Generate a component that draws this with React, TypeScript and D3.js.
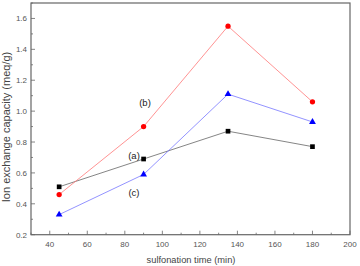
import React, { useEffect, useRef } from 'react';
import * as d3 from 'd3';

const times = [45, 90, 135, 180];
const seriesA = [0.51, 0.69, 0.87, 0.77];
const seriesB = [0.46, 0.90, 1.55, 1.06];
const seriesC = [0.33, 0.59, 1.11, 0.93];
const xTicks = [40, 60, 80, 100, 120, 140, 160, 180, 200];
const yTicks = [0.2, 0.4, 0.6, 0.8, 1.0, 1.2, 1.4, 1.6];

const App: React.FC = () => {
    const ref = useRef<SVGSVGElement>(null);

    useEffect(() => {
        const svg = d3.select(ref.current);
        svg.selectAll('*').remove();

        const left = 31, right = 350, top = 3, bottom = 234.7;
        const x = d3.scaleLinear().domain([30, 200]).range([left, right]);
        const y = d3.scaleLinear().domain([0.2, 1.7]).range([bottom, top]);
        const axisColor = '#666';
        const font = 'Arial, "Liberation Sans", sans-serif';

        // frame
        svg.append('rect')
            .attr('x', left).attr('y', top)
            .attr('width', right - left).attr('height', bottom - top)
            .attr('fill', 'none').attr('stroke', axisColor).attr('stroke-width', 1.2);

        // x ticks (inward)
        const xg = svg.append('g');
        d3.range(30, 201, 10).forEach(v => {
            const major = v % 20 === 0;
            xg.append('line')
                .attr('x1', x(v)).attr('x2', x(v))
                .attr('y1', bottom).attr('y2', bottom - (major ? 4 : 2))
                .attr('stroke', axisColor).attr('stroke-width', 0.8);
        });
        xTicks.forEach(v => {
            xg.append('text')
                .attr('x', x(v)).attr('y', bottom + 12)
                .attr('text-anchor', 'middle')
                .attr('font-size', 8).attr('font-family', font).attr('fill', '#555')
                .text(v);
        });

        // y ticks (inward)
        const yg = svg.append('g');
        d3.range(0, 16).map(i => 0.2 + i * 0.1).forEach((v, i) => {
            const major = i % 2 === 0;
            yg.append('line')
                .attr('x1', left).attr('x2', left + (major ? 4 : 2))
                .attr('y1', y(v)).attr('y2', y(v))
                .attr('stroke', axisColor).attr('stroke-width', 0.8);
        });
        yTicks.forEach(v => {
            yg.append('text')
                .attr('x', left - 4).attr('y', y(v) + 3)
                .attr('text-anchor', 'end')
                .attr('font-size', 8).attr('font-family', font).attr('fill', '#555')
                .text(v.toFixed(1));
        });

        // axis titles
        svg.append('text')
            .attr('x', 191).attr('y', 263)
            .attr('text-anchor', 'middle')
            .attr('font-size', 9.3).attr('font-family', font).attr('fill', '#444')
            .text('sulfonation time (min)');
        svg.append('text')
            .attr('transform', `translate(10,127) rotate(-90)`)
            .attr('text-anchor', 'middle')
            .attr('font-size', 11).attr('font-family', font).attr('fill', '#444')
            .text('Ion exchange capacity (meq/g)');

        const line = d3.line<number>()
            .x((d, i) => x(times[i]))
            .y(d => y(d));

        const series = [
            { data: seriesA, stroke: '#666', fill: '#000', shape: d3.symbolSquare, size: 22 },
            { data: seriesB, stroke: '#f77', fill: '#f00', shape: d3.symbolCircle, size: 22 },
            { data: seriesC, stroke: '#77f', fill: '#00f', shape: d3.symbolTriangle, size: 20 },
        ];

        series.forEach(s => {
            svg.append('path')
                .attr('d', line(s.data))
                .attr('fill', 'none')
                .attr('stroke', s.stroke)
                .attr('stroke-width', 0.8);
        });
        series.forEach(s => {
            svg.selectAll(null)
                .data(s.data)
                .enter()
                .append('path')
                .attr('d', d3.symbol().type(s.shape).size(s.size)())
                .attr('transform', (d, i) => `translate(${x(times[i])},${y(d)})`)
                .attr('fill', s.fill);
        });

        // series labels
        const labels = [
            { t: '(b)', x: 145, y: 106 },
            { t: '(a)', x: 134, y: 159 },
            { t: '(c)', x: 134, y: 196 },
        ];
        labels.forEach(l => {
            svg.append('text')
                .attr('x', l.x).attr('y', l.y)
                .attr('text-anchor', 'middle')
                .attr('font-size', 9.5).attr('font-family', font).attr('fill', '#222')
                .text(l.t);
        });
    }, []);

    return (
        <svg ref={ref} width={360} height={266}
            style={{ position: 'absolute', left: 0, top: 0, background: '#fff' }} />
    );
};

export default App;
